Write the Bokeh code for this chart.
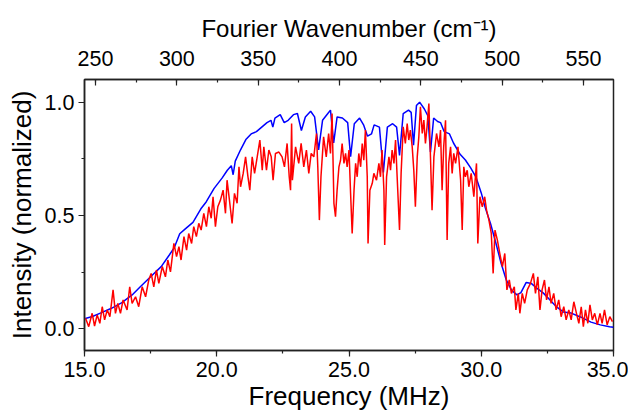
from bokeh.plotting import figure
from bokeh.models import LinearAxis, Range1d, SingleIntervalTicker, PrintfTickFormatter
from bokeh.embed import file_html
from bokeh.resources import INLINE

# ---- data ----
blue_freq = [15.0, 15.3, 15.6, 16.0, 16.4, 16.8, 17.1, 17.5, 17.9, 18.2,
             18.4, 18.6, 18.8, 19.1, 19.4, 19.6, 19.9, 20.2, 20.4, 20.55,
             20.62, 20.7, 20.9, 21.1, 21.3, 21.5, 21.7, 21.9, 22.05, 22.12,
             22.2, 22.4, 22.55, 22.7, 22.9, 23.05, 23.2, 23.35, 23.55, 23.7,
             23.85, 24.0, 24.2, 24.3, 24.42, 24.55, 24.75, 24.95, 25.06, 25.2,
             25.4, 25.55, 25.7, 25.85, 25.95, 26.15, 26.3, 26.45, 26.65, 26.8,
             26.91, 27.05, 27.25, 27.35, 27.44, 27.55, 27.67, 27.85, 27.98, 28.08,
             28.2, 28.35, 28.46, 28.6, 28.8, 28.95, 29.2, 29.4, 29.6, 29.8,
             30.0, 30.15, 30.35, 30.55, 30.75, 30.95, 31.15, 31.35, 31.5, 31.7,
             31.9, 32.1, 32.35, 32.6, 32.85, 33.1, 33.4, 33.75, 34.15, 34.5,
             34.85, 35.0]
blue_int = [0.045, 0.055, 0.07, 0.09, 0.115, 0.15, 0.185, 0.23, 0.275, 0.325,
            0.36, 0.42, 0.44, 0.47, 0.53, 0.56, 0.62, 0.665, 0.70, 0.72,
            0.68, 0.74, 0.79, 0.835, 0.86, 0.87, 0.89, 0.91, 0.92, 0.89,
            0.93, 0.945, 0.91, 0.92, 0.945, 0.95, 0.875, 0.935, 0.96, 0.935,
            0.79, 0.92, 0.95, 0.965, 0.82, 0.935, 0.93, 0.91, 0.76, 0.905,
            0.93, 0.90, 0.85, 0.86, 0.90, 0.89, 0.69, 0.89, 0.905, 0.89,
            0.765, 0.95, 0.965, 0.955, 0.81, 0.985, 1.0, 0.97, 0.94, 0.78,
            0.93, 0.915, 0.91, 0.87, 0.86, 0.82, 0.77, 0.745, 0.71, 0.67,
            0.60, 0.535, 0.465, 0.38, 0.29, 0.215, 0.17, 0.15, 0.16, 0.205,
            0.20, 0.18, 0.158, 0.128, 0.097, 0.075, 0.07, 0.053, 0.03, 0.018,
            0.01, 0.008]

red_freq_a = [15.04, 15.16, 15.29, 15.38, 15.48, 15.58, 15.67, 15.76, 15.86, 15.96,
              16.08, 16.17, 16.26, 16.36, 16.46, 16.61, 16.71, 16.80, 16.93, 17.05,
              17.18, 17.31, 17.43, 17.52, 17.62, 17.72, 17.81, 17.94, 18.06, 18.15,
              18.25, 18.38, 18.48, 18.57, 18.65, 18.76, 18.86, 18.94, 19.05, 19.13,
              19.23, 19.32, 19.41, 19.51, 19.61, 19.70, 19.79, 19.86, 19.95, 20.04,
              20.14, 20.24, 20.33, 20.39, 20.48]
red_int_a = [0.047, 0.01, 0.069, 0.013, 0.062, 0.025, 0.098, 0.04, 0.084, 0.054,
             0.172, 0.069, 0.113, 0.069, 0.128, 0.084, 0.186, 0.113, 0.142, 0.098,
             0.186, 0.142, 0.216, 0.245, 0.186, 0.26, 0.201, 0.275, 0.23, 0.304,
             0.252, 0.377, 0.319, 0.363, 0.304, 0.407, 0.348, 0.421, 0.377, 0.451,
             0.407, 0.466, 0.436, 0.51, 0.451, 0.539, 0.488, 0.583, 0.451, 0.539,
             0.568, 0.612, 0.51, 0.656, 0.568]

red_freq_b = [20.58, 20.67, 20.77, 20.84, 20.90, 21.0, 21.09, 21.18, 21.25, 21.34,
              21.43, 21.53, 21.63, 21.72, 21.78, 21.88, 21.97, 22.06, 22.13, 22.22,
              22.35, 22.47, 22.56, 22.66, 22.74, 22.79, 22.83, 22.86, 22.98, 23.10,
              23.19, 23.29, 23.39, 23.48, 23.57, 23.67, 23.77, 23.82, 23.88, 23.94,
              24.04, 24.14, 24.23, 24.30, 24.36]
red_int_b = [0.465, 0.598, 0.554, 0.715, 0.627, 0.686, 0.759, 0.671, 0.612, 0.759,
             0.686, 0.759, 0.833, 0.70, 0.803, 0.70, 0.789, 0.759, 0.656, 0.774,
             0.78, 0.759, 0.715, 0.818, 0.671, 0.612, 0.906, 0.656, 0.803, 0.73,
             0.818, 0.715, 0.789, 0.686, 0.774, 0.759, 0.862, 0.715, 0.48, 0.671,
             0.847, 0.759, 0.862, 0.774, 0.95]

red_freq_c = [24.43, 24.49, 24.55, 24.62, 24.68, 24.74, 24.81, 24.87, 24.93, 25.0,
              25.06, 25.12, 25.19, 25.25, 25.31, 25.37, 25.44, 25.50, 25.56, 25.62,
              25.69, 25.72, 25.79, 25.88, 25.94, 26.04, 26.13, 26.19, 26.25, 26.32,
              26.35, 26.42, 26.51, 26.57, 26.63, 26.70, 26.76, 26.82, 26.91, 26.97,
              27.05, 27.13, 27.20, 27.26, 27.32, 27.39, 27.45, 27.51, 27.58, 27.64,
              27.70, 27.77, 27.83, 27.89, 27.95, 28.02, 28.08, 28.14, 28.21, 28.31,
              28.40, 28.46]
red_int_c = [0.554, 0.495, 0.612, 0.715, 0.744, 0.818, 0.73, 0.774, 0.715, 0.789,
             0.598, 0.421, 0.612, 0.73, 0.671, 0.774, 0.715, 0.818, 0.744, 0.877,
             0.671, 0.377, 0.612, 0.642, 0.686, 0.656, 0.73, 0.671, 0.789, 0.612,
             0.37, 0.671, 0.759, 0.70, 0.789, 0.73, 0.833, 0.671, 0.436, 0.686,
             0.891, 0.818, 0.906, 0.833, 0.877, 0.803, 0.70, 0.539, 0.759, 0.847,
             0.98, 0.862, 0.921, 0.818, 0.891, 0.994, 0.759, 0.524, 0.759, 0.862,
             0.803, 0.877]

red_freq_d = [28.52, 28.58, 28.65, 28.71, 28.77, 28.84, 28.90, 28.96, 29.03, 29.12,
              29.22, 29.28, 29.34, 29.40, 29.47, 29.53, 29.62, 29.72, 29.82, 29.87,
              29.95, 30.04, 30.13, 30.20, 30.29, 30.38, 30.45, 30.52, 30.61, 30.70,
              30.80, 30.89, 30.97, 31.06, 31.14, 31.25, 31.31, 31.40, 31.46, 31.55,
              31.64, 31.74, 31.86, 31.97, 32.05, 32.14, 32.22, 32.30, 32.39, 32.47,
              32.56, 32.64, 32.74, 32.83, 32.93, 33.02, 33.12, 33.21, 33.31, 33.40,
              33.50, 33.60, 33.69, 33.78, 33.86, 33.94, 34.03, 34.11, 34.20, 34.29,
              34.39, 34.49, 34.57, 34.66, 34.76, 34.86, 34.96]
red_int_d = [0.612, 0.803, 0.92, 0.392, 0.73, 0.803, 0.686, 0.774, 0.73, 0.803,
             0.656, 0.436, 0.715, 0.671, 0.70, 0.627, 0.686, 0.583, 0.73, 0.377,
             0.583, 0.539, 0.583, 0.524, 0.48, 0.421, 0.245, 0.436, 0.392, 0.333,
             0.275, 0.333, 0.172, 0.216, 0.157, 0.186, 0.084, 0.157, 0.069, 0.157,
             0.113, 0.172, 0.201, 0.245, 0.157, 0.23, 0.084, 0.172, 0.216, 0.128,
             0.186, 0.113, 0.157, 0.084, 0.128, 0.054, 0.098, 0.04, 0.084, 0.04,
             0.12, 0.069, 0.025, 0.098, 0.01, 0.084, 0.025, 0.106, 0.04, 0.069,
             0.018, 0.069, 0.025, 0.084, 0.018, 0.054, 0.032]

red_freq = red_freq_a + red_freq_b + red_freq_c + red_freq_d
red_int = red_int_a + red_int_b + red_int_c + red_int_d

x_ticks_interval = 5.0
y_ticks_interval = 0.5
wn_ticks_interval = 50
freq_range = (15.0, 35.0)
int_range = (-0.095, 1.1)
wn_range = (243.24, 568.44)

FONT = "Liberation Sans"

p = figure(width=628, height=413, output_backend="svg", toolbar_location=None,
           x_range=Range1d(*freq_range), y_range=Range1d(*int_range),
           min_border_left=84, min_border_right=15, min_border_top=79,
           min_border_bottom=55, x_axis_location=None, y_axis_location=None)
p.extra_x_ranges = {"wn": Range1d(*wn_range)}
p.xgrid.visible = False
p.ygrid.visible = False
p.outline_line_color = "#222222"
p.outline_line_width = 1.5
p.background_fill_color = "white"
p.border_fill_color = "white"

def style_axis(ax, label_size="21.5px", title_size="26px"):
    ax.axis_line_color = "#222222"
    ax.axis_line_width = 1.5
    ax.major_tick_line_color = "#222222"
    ax.minor_tick_line_color = "#222222"
    ax.major_tick_line_width = 1.2
    ax.minor_tick_line_width = 1.2
    ax.major_label_text_font = FONT
    ax.major_label_text_font_size = label_size
    ax.major_label_text_color = "black"
    ax.axis_label_text_font = FONT
    ax.axis_label_text_font_size = title_size
    ax.axis_label_text_font_style = "normal"
    ax.axis_label_text_color = "black"

xb = LinearAxis(ticker=SingleIntervalTicker(interval=x_ticks_interval, num_minor_ticks=2),
                formatter=PrintfTickFormatter(format="%.1f"),
                axis_label="Frequency (MHz)")
style_axis(xb)
xb.major_tick_in = 0
xb.major_tick_out = 6
xb.minor_tick_in = 0
xb.minor_tick_out = 3
xb.major_label_standoff = 5
xb.axis_label_standoff = 1
p.add_layout(xb, "below")

yl = LinearAxis(ticker=SingleIntervalTicker(interval=y_ticks_interval, num_minor_ticks=2),
                formatter=PrintfTickFormatter(format="%.1f"),
                axis_label="Intensity (normalized)")
style_axis(yl)
yl.major_tick_in = 0
yl.major_tick_out = 6
yl.minor_tick_in = 0
yl.minor_tick_out = 3
yl.major_label_standoff = 4
yl.axis_label_standoff = 5
p.add_layout(yl, "left")

xt = LinearAxis(x_range_name="wn",
                ticker=SingleIntervalTicker(interval=wn_ticks_interval, num_minor_ticks=2),
                axis_label="Fourier Wavenumber (cm\u207b\u00b9)")
style_axis(xt, title_size="24px")
xt.major_tick_in = 6
xt.major_tick_out = 0
xt.minor_tick_in = 3
xt.minor_tick_out = 0
xt.major_label_standoff = 14
xt.axis_label_standoff = 6
p.add_layout(xt, "above")

p.line(blue_freq, blue_int, line_color="#0000FF", line_width=1.5)
p.line(red_freq, red_int, line_color="#FF0000", line_width=1.5)

open("out.html", "w").write(file_html(p, INLINE))
